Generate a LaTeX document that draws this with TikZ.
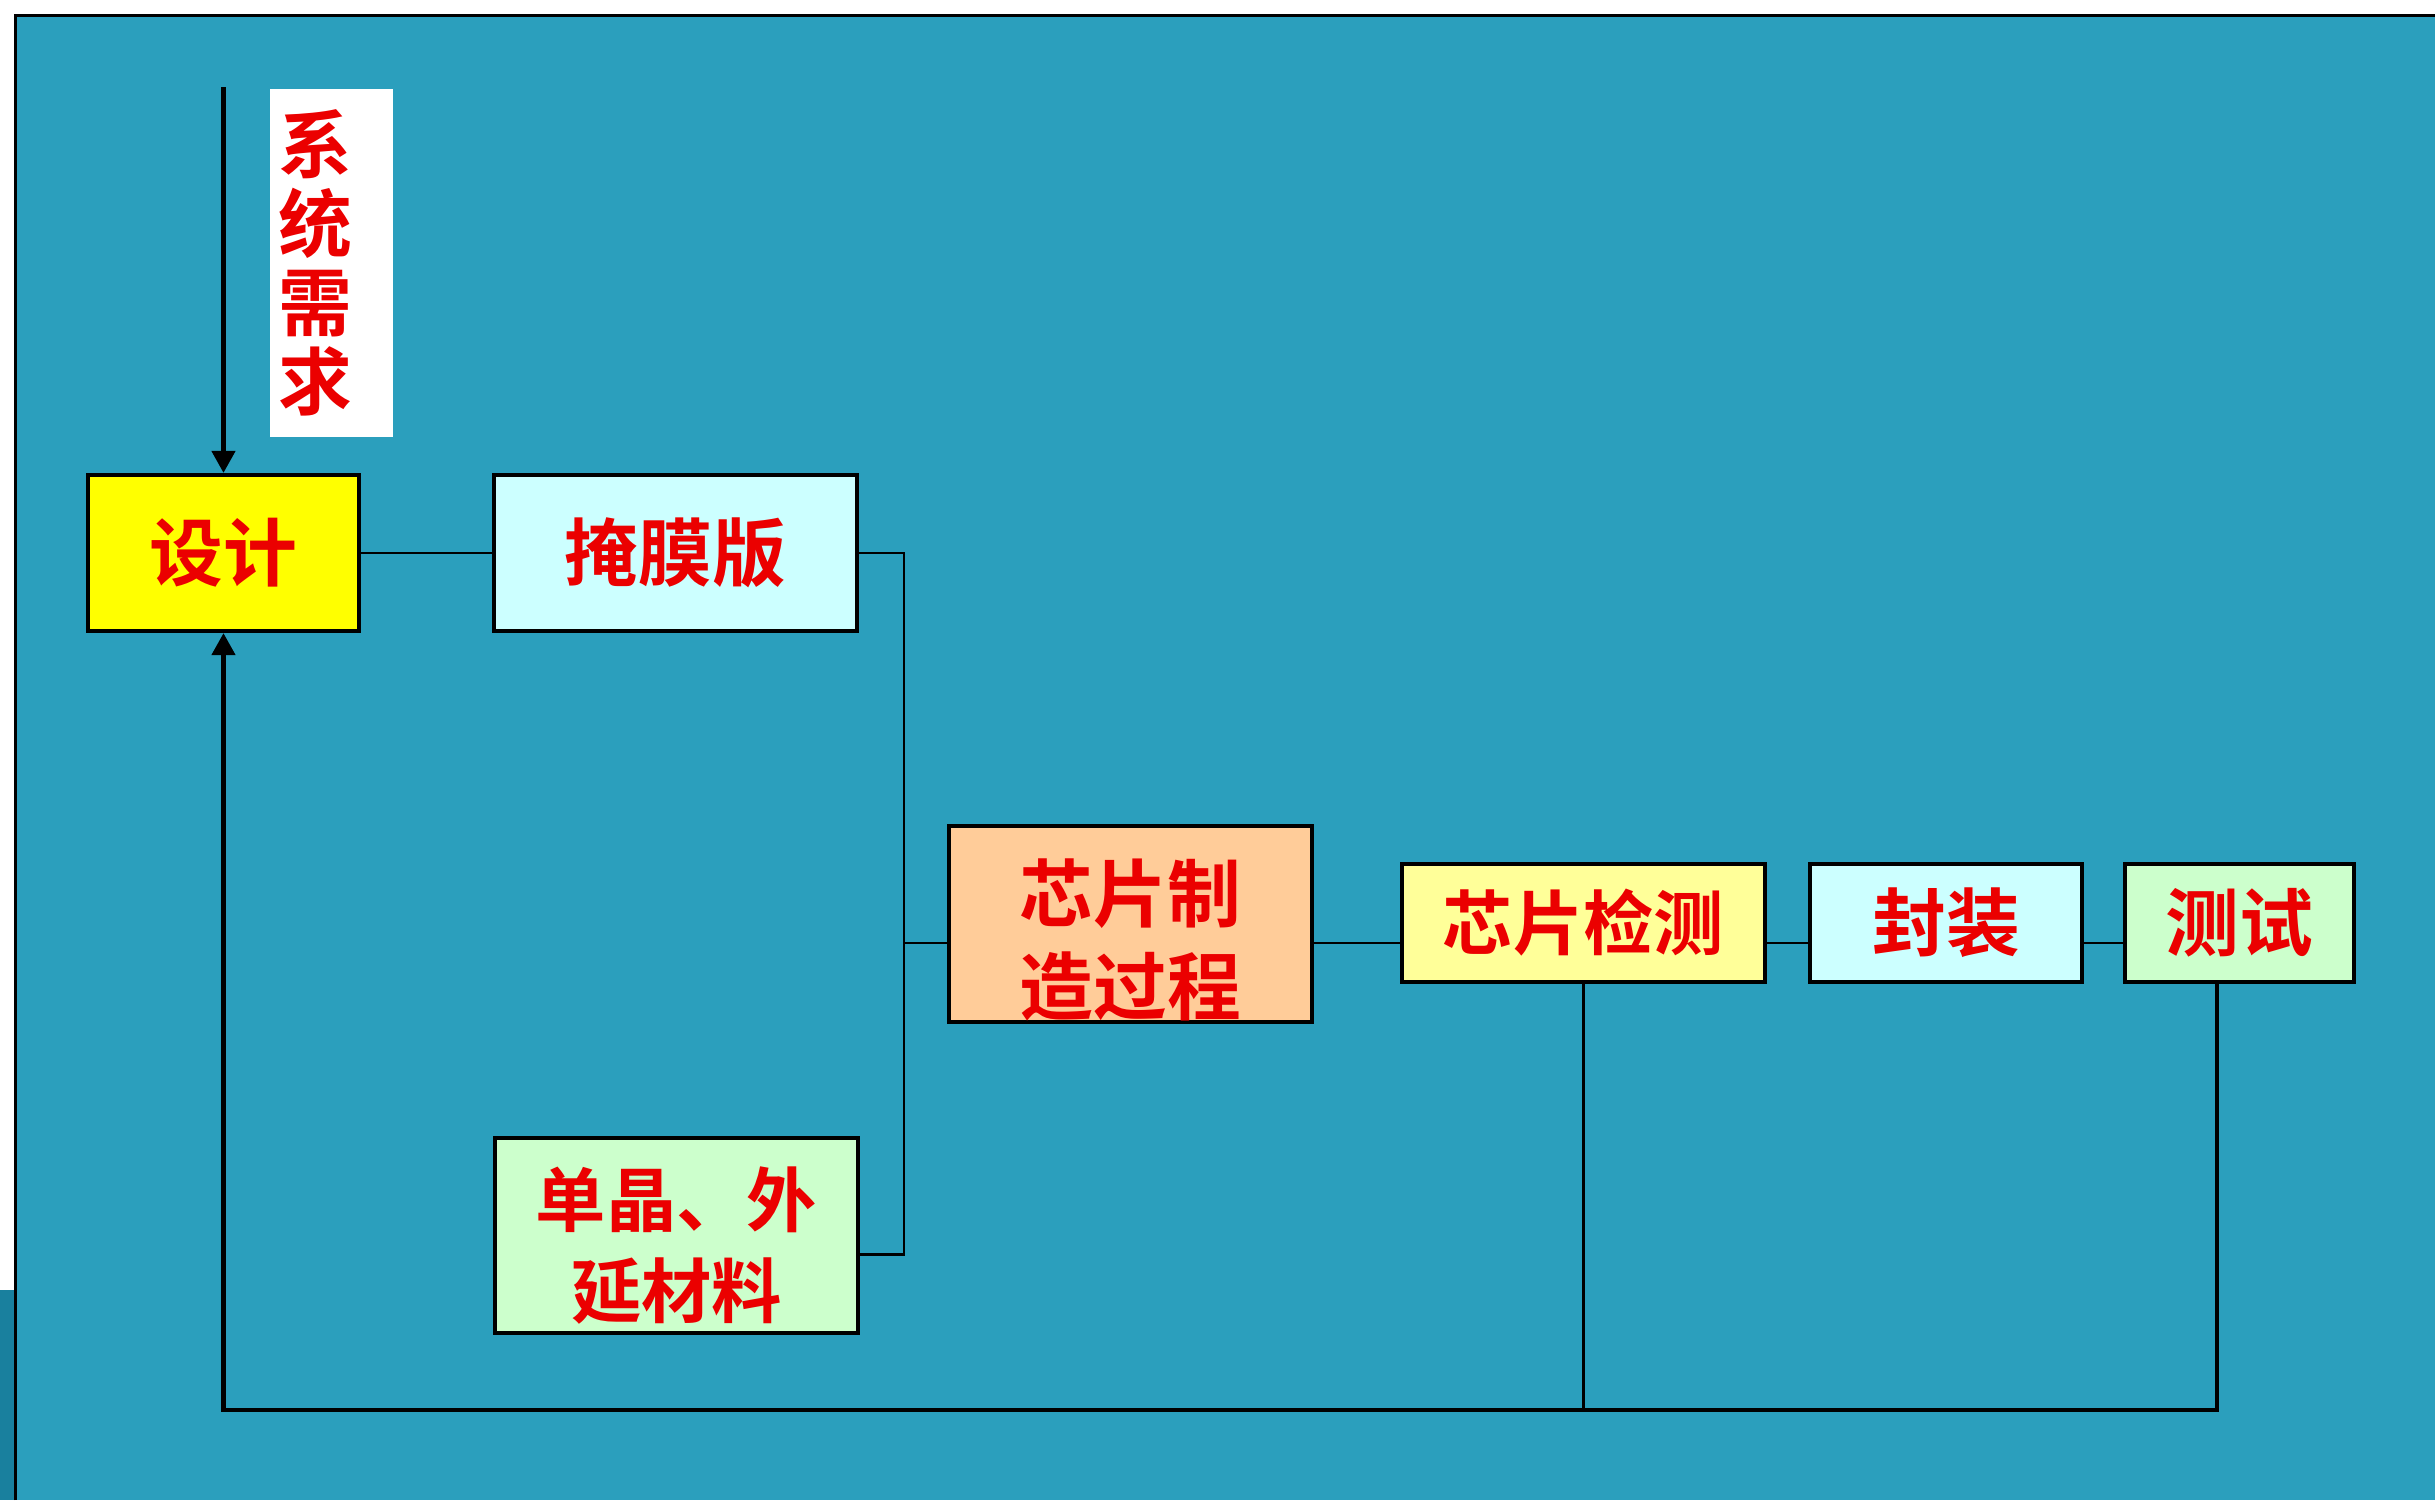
\documentclass[tikz,border=0pt]{standalone}
\usepackage{fontspec}
\usetikzlibrary{arrows.meta,patterns}
\newfontfamily\cjk[BoldFont={Noto Sans CJK SC Bold}]{Noto Sans CJK SC}
\definecolor{bgteal}{RGB}{43,159,189}
\definecolor{darkteal}{RGB}{25,128,158}
\definecolor{txtred}{RGB}{235,0,0}
\definecolor{cyanbox}{RGB}{204,255,255}
\definecolor{greenbox}{RGB}{204,255,204}
\definecolor{peachbox}{RGB}{255,204,153}
\definecolor{lyellow}{RGB}{255,255,153}
\definecolor{yellowbox}{RGB}{255,255,0}
\tikzset{
  box/.style={draw=black, line width=1.2pt, rectangle, inner sep=0pt,
    font=\cjk\bfseries\fontsize{21}{25}\selectfont, text=txtred, align=center},
  thin/.style={line width=0.6pt, black},
  thick line/.style={line width=1.3pt, black},
  tip/.style={-{Triangle[length=2.2mm,width=2.3mm]}}
}
\begin{document}
\begin{tikzpicture}
\useasboundingbox (0,0) rectangle (24.35,-15);
\fill[white] (0,0) rectangle (24.35,-15);
\fill[bgteal] (0.155,-0.155) rectangle (24.35,-15);
\fill[darkteal] (0,-12.9) rectangle (0.155,-15);
\draw[line width=1.1pt] (0.155,-15) -- (0.155,-0.155) -- (24.35,-0.155);

% nodes
\node[fill=white, inner sep=0pt, minimum width=1.23cm, minimum height=3.48cm] (req) at (3.315,-2.63) {};
\node[inner sep=0pt, font=\cjk\bfseries\fontsize{21}{22.5}\selectfont, text=txtred, align=center]
  (reqtext) at (3.15,-2.63) {系\\统\\需\\求};
\node[box, fill=yellowbox, minimum width=2.71cm, minimum height=1.56cm] (sheji) at (2.235,-5.53) {设计};
\node[box, fill=cyanbox, minimum width=3.63cm, minimum height=1.56cm] (yanmo) at (6.755,-5.53) {掩膜版};
\node[box, fill=greenbox, minimum width=3.63cm, minimum height=1.95cm,
  text depth=0pt, font=\cjk\bfseries\fontsize{20}{26}\selectfont] (danjing) at (6.765,-12.355) {};
\node[inner sep=0pt, font=\cjk\bfseries\fontsize{20}{26}\selectfont, text=txtred, align=center]
  at ([yshift=-0.1cm]danjing.center) {单晶、外\\延材料};
\node[box, fill=peachbox, minimum width=3.63cm, minimum height=1.96cm] (zhizao) at (11.305,-9.24) {};
\node[inner sep=0pt, font=\cjk\bfseries\fontsize{21}{26.5}\selectfont, text=txtred, align=center]
  at ([yshift=-0.16cm]zhizao.center) {芯片制\\造过程};
\node[box, fill=lyellow, minimum width=3.63cm, minimum height=1.18cm,
  font=\cjk\bfseries\fontsize{20}{24}\selectfont] (jiance) at (15.835,-9.23) {芯片检测};
\node[box, fill=cyanbox, minimum width=2.72cm, minimum height=1.18cm] (feng) at (19.46,-9.23) {封装};
\node[box, fill=greenbox, minimum width=2.29cm, minimum height=1.18cm] (ceshi) at (22.395,-9.23) {测试};

% coordinates
\coordinate (reqtop) at (2.235,-0.87);
\coordinate (rowy) at (0,-9.43);
\coordinate (bx) at (9.04,-9.43);
\coordinate (bot) at (2.235,-14.10);
\coordinate (cs) at (22.17,-9.82);

% connectors
\draw[thick line, tip] (reqtop) -- (sheji.north);
\draw[thin] (sheji.east) -- (yanmo.west);
\draw[thin] (yanmo.east) -| (bx);
\draw[thin] ([yshift=-0.19cm]danjing.east) -| (bx);
\draw[thin] (bx) -- (zhizao.west |- rowy);
\draw[thin] (zhizao.east |- rowy) -- (jiance.west |- rowy);
\draw[thin] (jiance.east |- rowy) -- (feng.west |- rowy);
\draw[thin] (feng.east |- rowy) -- (ceshi.west |- rowy);
\draw[thin] (jiance.south) -- (jiance.south |- bot);
\draw[thick line, tip] (cs) |- (bot) -- (sheji.south);
\end{tikzpicture}
\end{document}
